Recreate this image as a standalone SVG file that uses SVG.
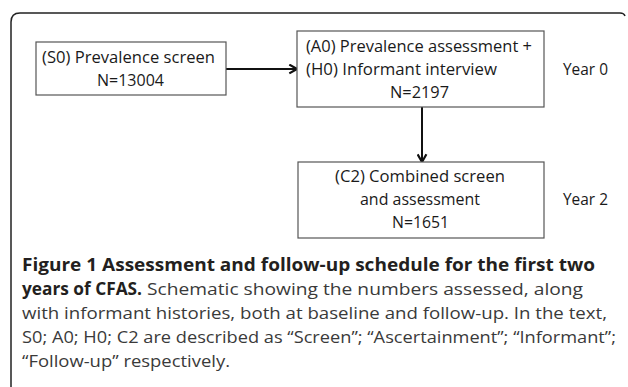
<svg xmlns="http://www.w3.org/2000/svg" width="628" height="387" viewBox="0 0 628 387">
<style>
.box{fill:#fff;stroke:#555;stroke-width:1.2}
.t{font-family:"Open Sans","Liberation Sans",sans-serif;font-size:15.5px;fill:#1a1a1a}
.cap{font-family:"Open Sans","Liberation Sans",sans-serif;font-size:17px;fill:#3a3a3a}
.capb{font-family:"Open Sans","Liberation Sans",sans-serif;font-size:17px;font-weight:bold;fill:#231f20}
.conn{stroke:#111;stroke-width:2;fill:none}
</style>
<defs>
<marker id="arr" viewBox="0 0 10 10" refX="9" refY="5" markerWidth="5.5" markerHeight="5.5" markerUnits="strokeWidth" orient="auto">
<path d="M2,1 L9,5 L2,9" fill="none" stroke="#111" stroke-width="2"/>
</marker>
</defs>
<rect width="628" height="387" fill="#fff"/>
<path d="M11,387 L11,22 Q11,13 20,13 L620,13 Q624,13 625,16" fill="none" stroke="#222" stroke-width="1.5"/>
<g id="connectors">
<line class="conn" x1="226" y1="69" x2="297" y2="69" marker-end="url(#arr)"/>
<line class="conn" x1="422" y1="107" x2="422" y2="162" marker-end="url(#arr)"/>
</g>
<g id="S0">
<rect class="box" x="36" y="42" width="190" height="53"/>
<text class="t" x="42" y="63" textLength="173" lengthAdjust="spacingAndGlyphs">(S0) Prevalence screen</text>
<text class="t" x="97" y="86" textLength="67" lengthAdjust="spacingAndGlyphs">N=13004</text>
</g>
<g id="A0">
<rect class="box" x="297" y="31" width="247" height="76"/>
<text class="t" x="306" y="52" textLength="226" lengthAdjust="spacingAndGlyphs">(A0) Prevalence assessment +</text>
<text class="t" x="306" y="75" textLength="191" lengthAdjust="spacingAndGlyphs">(H0) Informant interview</text>
<text class="t" x="390" y="98" textLength="59" lengthAdjust="spacingAndGlyphs">N=2197</text>
</g>
<g id="year0">
<text class="t" x="563" y="75" textLength="45" lengthAdjust="spacingAndGlyphs">Year 0</text>
</g>
<g id="C2">
<rect class="box" x="298" y="162" width="246" height="76"/>
<text class="t" x="335" y="182" textLength="170" lengthAdjust="spacingAndGlyphs">(C2) Combined screen</text>
<text class="t" x="360" y="205" textLength="120" lengthAdjust="spacingAndGlyphs">and assessment</text>
<text class="t" x="392" y="228" textLength="57" lengthAdjust="spacingAndGlyphs">N=1651</text>
</g>
<g id="year2">
<text class="t" x="563" y="205" textLength="45" lengthAdjust="spacingAndGlyphs">Year 2</text>
</g>
<g id="caption">
<text class="capb" x="22" y="271" textLength="573" lengthAdjust="spacingAndGlyphs">Figure 1 Assessment and follow-up schedule for the first two</text>
<text class="capb" x="22" y="295" textLength="120" lengthAdjust="spacingAndGlyphs">years of CFAS.</text>
<text class="cap" x="147" y="295" textLength="436" lengthAdjust="spacingAndGlyphs">Schematic showing the numbers assessed, along</text>
<text class="cap" x="22" y="319" textLength="585" lengthAdjust="spacingAndGlyphs">with informant histories, both at baseline and follow-up. In the text,</text>
<text class="cap" x="22" y="343" textLength="594" lengthAdjust="spacingAndGlyphs">S0; A0; H0; C2 are described as “Screen”; “Ascertainment”; “Informant”;</text>
<text class="cap" x="22" y="367" textLength="208" lengthAdjust="spacingAndGlyphs">“Follow-up” respectively.</text>
</g>
</svg>
